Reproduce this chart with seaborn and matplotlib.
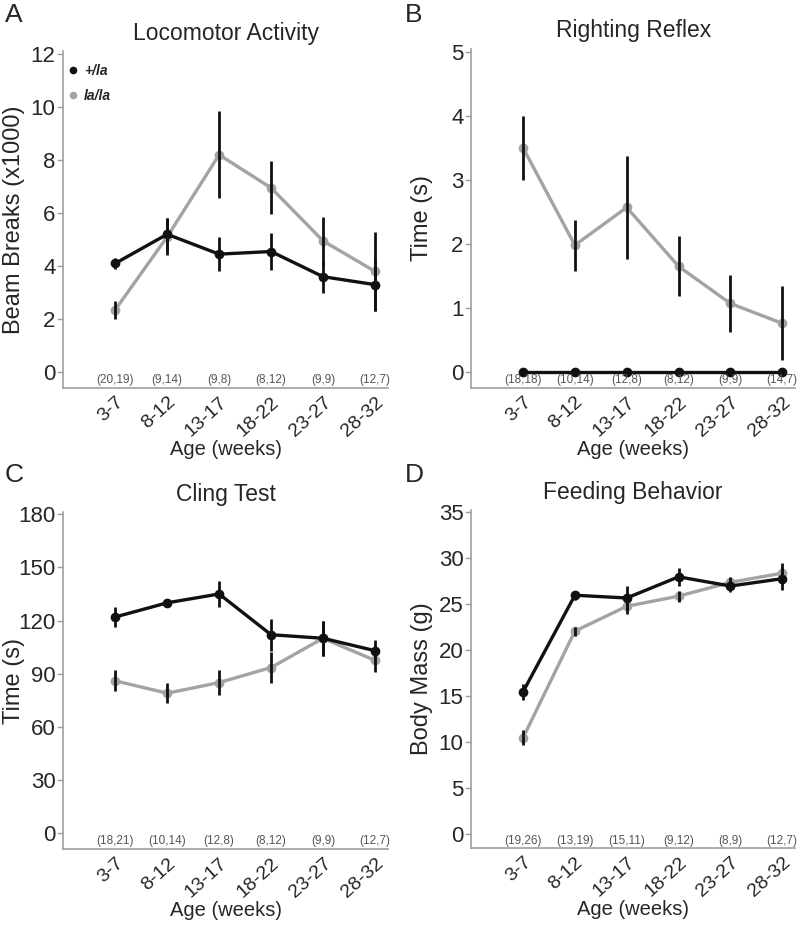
"""Four-panel behavioural phenotype figure (+/la vs la/la) by age bin."""
import matplotlib
matplotlib.use("Agg")
import matplotlib.pyplot as plt
import matplotlib.transforms as mtransforms
from matplotlib.lines import Line2D
import numpy as np
import pandas as pd
import seaborn as sns

ages = ["3-7", "8-12", "13-17", "18-22", "23-27", "28-32"]
genotypes = ["+/la", "la/la"]

loco_het = [4.1, 5.2, 4.45, 4.55, 3.6, 3.3]
loco_het_sem = [0.2, 0.6, 0.65, 0.7, 0.6, 1.0]
loco_la = [2.35, 5.1, 8.2, 6.95, 4.95, 3.8]
loco_la_sem = [0.35, 0.7, 1.65, 1.0, 0.9, 1.5]
loco_n = ["(20,19)", "(9,14)", "(9,8)", "(8,12)", "(9,9)", "(12,7)"]

right_het = [0, 0, 0, 0, 0, 0]
right_het_sem = [0, 0, 0, 0, 0, 0]
right_la = [3.5, 1.98, 2.57, 1.65, 1.07, 0.76]
right_la_sem = [0.5, 0.4, 0.8, 0.47, 0.45, 0.58]
right_n = ["(18,18)", "(10,14)", "(12,8)", "(8,12)", "(9,9)", "(14,7)"]

cling_het = [122, 130, 135, 112, 110, 103]
cling_het_sem = [5.5, 2, 7.5, 9, 10, 6]
cling_la = [86, 79, 85, 93.5, 110, 97.5]
cling_la_sem = [6, 5.5, 7, 9, 10, 6.5]
cling_n = ["(18,21)", "(10,14)", "(12,8)", "(8,12)", "(9,9)", "(12,7)"]

mass_het = [15.4, 25.9, 25.6, 27.9, 26.9, 27.7]
mass_het_sem = [0.9, 0.5, 1.3, 1.0, 0.7, 1.2]
mass_la = [10.4, 22.0, 24.7, 25.8, 27.3, 28.3]
mass_la_sem = [0.8, 0.5, 0.8, 0.6, 0.6, 1.1]
mass_n = ["(19,26)", "(13,19)", "(15,11)", "(9,12)", "(8,9)", "(12,7)"]

palette = {"+/la": "#111111", "la/la": "#a3a3a3"}
spine_col = "#a0a0a0"

sns.set_theme(style="ticks")
plt.rcParams["font.family"] = ["Liberation Sans", "DejaVu Sans"]


def panel(ax, het, het_sem, la, la_sem, n_labels, title, ylabel, ylim, yticks):
    x = np.arange(len(ages))
    df = pd.DataFrame({
        "age": np.concatenate([x, x]),
        "value": het + la,
        "genotype": [genotypes[0]] * len(x) + [genotypes[1]] * len(x),
    })
    for vals, sems in [(la, la_sem), (het, het_sem)]:
        ax.errorbar(x, vals, yerr=sems, fmt="none", ecolor="#111111",
                    elinewidth=2.0, capsize=0, zorder=3)
    sns.lineplot(data=df, x="age", y="value", hue="genotype", palette=palette,
                 hue_order=genotypes[::-1], marker="o", markersize=7,
                 markeredgewidth=0, linewidth=2.4, legend=False, ax=ax, zorder=2)

    ax.set_xlim(-1.0, 5.25)
    ax.set_ylim(*ylim)
    ax.set_yticks(yticks)
    ax.set_xticks(x)
    ax.set_xticklabels(ages, rotation=42, ha="right", rotation_mode="anchor",
                       fontsize=14)
    # nudge the rotated labels a little to the right, like the original
    shift = mtransforms.ScaledTranslation(5 / 72, 0, ax.figure.dpi_scale_trans)
    for lbl in ax.get_xticklabels():
        lbl.set_transform(lbl.get_transform() + shift)
    ax.tick_params(axis="x", length=0, pad=4)
    ax.tick_params(axis="y", length=4, width=1, color=spine_col, labelsize=16,
                   pad=1.5)
    for side in ["top", "right"]:
        ax.spines[side].set_visible(False)
    for side in ["left", "bottom"]:
        ax.spines[side].set_color(spine_col)
        ax.spines[side].set_linewidth(1.2)
    ax.set_title(title, fontsize=16.5, pad=8)
    ax.set_ylabel(ylabel, fontsize=17, va="center")
    ax.yaxis.set_label_coords(-0.152, 0.5)
    ax.set_xlabel("Age (weeks)", fontsize=14.5, labelpad=0)
    for i, lab in enumerate(n_labels):
        ax.annotate(lab, xy=(i, 0), xycoords=("data", "axes fraction"),
                    xytext=(0, 1.2), textcoords="offset points",
                    ha="center", va="bottom", fontsize=8.5, color="#555555")


fig = plt.figure(figsize=(8, 9.25), dpi=100)
ax_a = fig.add_axes([0.079, 0.5805, 0.406, 0.364])
ax_b = fig.add_axes([0.589, 0.5805, 0.405, 0.367])
ax_c = fig.add_axes([0.079, 0.082, 0.406, 0.364])
ax_d = fig.add_axes([0.589, 0.083, 0.405, 0.366])

panel(ax_a, loco_het, loco_het_sem, loco_la, loco_la_sem, loco_n,
      "Locomotor Activity", "Beam Breaks (x1000)", (-0.6, 12.1), range(0, 13, 2))
panel(ax_b, right_het, right_het_sem, right_la, right_la_sem, right_n,
      "Righting Reflex", "Time (s)", (-0.25, 5.05), range(0, 6))
panel(ax_c, cling_het, cling_het_sem, cling_la, cling_la_sem, cling_n,
      "Cling Test", "Time (s)", (-9, 181), range(0, 181, 30))
panel(ax_d, mass_het, mass_het_sem, mass_la, mass_la_sem, mass_n,
      "Feeding Behavior", "Body Mass (g)", (-1.6, 35.2), range(0, 36, 5))

handles = [Line2D([], [], ls="none", marker="o", markersize=5.5,
                  markeredgewidth=0, color=palette[g]) for g in genotypes]
ax_a.legend(handles, genotypes, loc="upper left", bbox_to_anchor=(-0.035, 1.0),
            frameon=False, handletextpad=0.2, handlelength=1.2, labelspacing=0.8,
            prop={"weight": "bold", "style": "italic", "size": 10})

for lab, (fx, fy) in zip("ABCD", [(0.006, 0.997), (0.506, 0.997),
                                  (0.006, 0.500), (0.506, 0.500)]):
    fig.text(fx, fy, lab, fontsize=19, ha="left", va="top")

fig.savefig("out.png", dpi=100)
